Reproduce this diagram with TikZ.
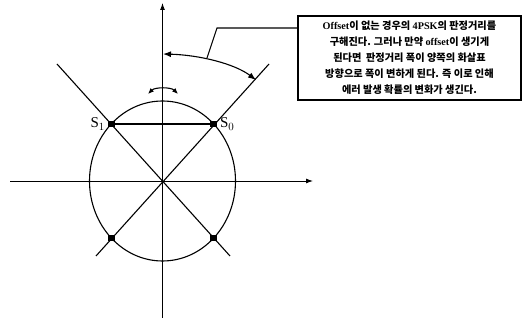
\documentclass[tikz,border=0pt]{standalone}
\usepackage{fontspec}
\setmainfont{Noto Sans CJK KR}
\newfontfamily\en{Liberation Serif}
\usetikzlibrary{arrows.meta}
\tikzset{
    axis/.style={line width=0.9pt, -{Latex[length=7pt,width=5pt]}},
    sym/.style={rectangle, fill=black, inner sep=0pt, minimum size=6.5pt},
    sig/.style={font=\en\fontsize{15}{15}\selectfont, inner sep=0pt},
    note/.style={draw, line width=1.2pt, minimum width=223pt, minimum height=84pt,
        align=center, inner sep=2pt, font=\fontsize{10.2}{16}\selectfont\bfseries},
}
\begin{document}
\begin{tikzpicture}[x=1pt, y=-1pt, line width=1.1pt]
    \useasboundingbox (0,0) rectangle (523,320);
    \coordinate (o) at (162.5,181);
    % axes
    \draw[axis] (162.5,318) -- (162.5,3);
    \draw[axis] (10,181) -- (313,181);
    % circle and decision lines
    \draw (o) ellipse [x radius=73, y radius=80];
    \coordinate (ul) at (57,64);
    \coordinate (ur) at (269,64);
    \coordinate (dl) at (96,256);
    \coordinate (dr) at (230,256);
    \draw (ul) -- (dr);
    \draw (ur) -- (dl);
    % symbol points
    \node[sym] (s0) at (213.5,124) {};
    \node[sym] (s1) at (111.5,124) {};
    \node[sym] (s2) at (111.5,238) {};
    \node[sym] (s3) at (213.5,238) {};
    \draw (s1) -- (s0);
    \node[sig, right=6pt] (l0) at (s0) {S$_0$};
    \node[sig, left=6pt] (l1) at (s1) {S$_1$};
    % arrows
    \coordinate (a1) at (148,94);
    \coordinate (a2) at (178,94);
    \draw[{Latex[length=6pt,width=5pt]}-{Latex[length=6pt,width=5pt]}]
        (a1) .. controls (155,87) and (171,87) .. (a2);
    \coordinate (b1) at (163,54);
    \coordinate (b2) at (256,80);
    \draw[{Latex[length=8pt,width=6pt]}-{Latex[length=8pt,width=6pt]}]
        (b1) .. controls (200,55) and (235,64) .. (b2);
    % note
    \node[note] (txt) at (409.5,58) {%
        {\en Offset}이 없는 경우의 {\en 4PSK}의 판정거리를\\
        구해진다. 그러나 만약 {\en offset}이 생기게\\
        된다면\ \ 판정거리 폭이 양쪽의 화살표\\
        방향으로 폭이 변하게 된다. 즉 이로 인해\\
        에러 발생 확률의 변화가 생긴다.};
    \coordinate (k) at (217,28);
    \coordinate (kb) at (207,58);
    \draw (txt.west |- k) -- (k) -- (kb);
\end{tikzpicture}
\end{document}
